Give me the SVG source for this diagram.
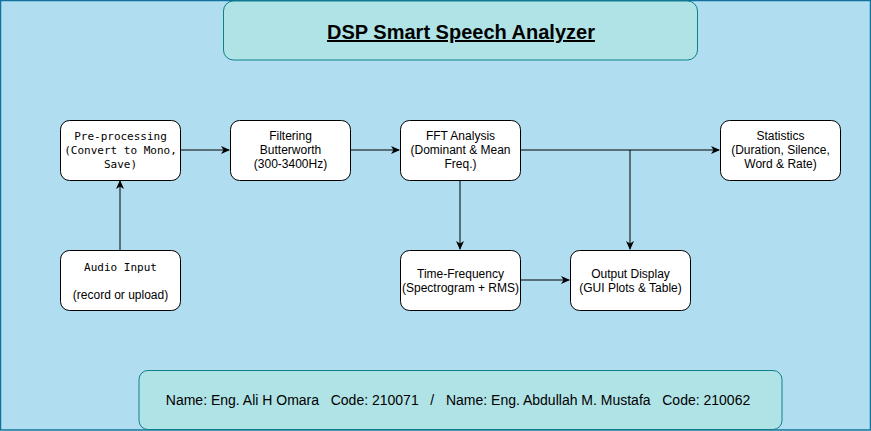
<svg xmlns="http://www.w3.org/2000/svg" width="871" height="431" viewBox="0 0 871 431">
<style>
.node{fill:#ffffff;stroke:#000000;stroke-width:1}
.t{font-family:"Liberation Sans",Arial,sans-serif;font-size:12px;fill:#000;text-anchor:middle}
.m{font-family:"DejaVu Sans Mono","Liberation Mono",monospace;font-size:11px;fill:#000;text-anchor:middle}
.c{fill:none;stroke:#000;stroke-width:1}
</style>
<defs>
<marker id="arr" markerWidth="10" markerHeight="10" refX="8" refY="4" orient="auto" markerUnits="userSpaceOnUse">
<path d="M0,0 L9,4 L0,8 L2.5,4 Z" fill="#000"/>
</marker>
</defs>
<rect x="0.5" y="0.5" width="870" height="429.5" fill="#b1ddf0" stroke="#10739e" stroke-width="1.5"/>
<g id="title">
<rect x="223.5" y="1" width="474" height="59" rx="10" fill="#b0e3e6" stroke="#0e8088"/>
<text x="461" y="39" font-family="Liberation Sans,Arial,sans-serif" font-size="20" font-weight="bold" text-anchor="middle" text-decoration="underline">DSP Smart Speech Analyzer</text>
</g>
<g id="connectors">
<path class="c" d="M180,150 L229,150" marker-end="url(#arr)"/>
<path class="c" d="M350,150 L399,150" marker-end="url(#arr)"/>
<path class="c" d="M520,150 L719,150" marker-end="url(#arr)"/>
<path class="c" d="M630,150 L630,249" marker-end="url(#arr)"/>
<path class="c" d="M460,180 L460,249" marker-end="url(#arr)"/>
<path class="c" d="M120,250 L120,181" marker-end="url(#arr)"/>
<path class="c" d="M520,280 L569,280" marker-end="url(#arr)"/>
</g>
<g id="preprocessing">
<rect class="node" x="60.5" y="120.5" width="120" height="60" rx="9"/>
<text class="m" x="120.5" y="140">Pre-processing</text>
<text class="m" x="120.5" y="154">(Convert to Mono,</text>
<text class="m" x="120.5" y="168">Save)</text>
</g>
<g id="filtering">
<rect class="node" x="230.5" y="120.5" width="120" height="60" rx="9"/>
<text class="t" x="290.5" y="140">Filtering</text>
<text class="t" x="290.5" y="154">Butterworth</text>
<text class="t" x="290.5" y="168">(300-3400Hz)</text>
</g>
<g id="fft">
<rect class="node" x="400.5" y="120.5" width="120" height="60" rx="9"/>
<text class="t" x="460.5" y="140">FFT Analysis</text>
<text class="t" x="460.5" y="154">(Dominant &amp; Mean</text>
<text class="t" x="460.5" y="168">Freq.)</text>
</g>
<g id="statistics">
<rect class="node" x="720.5" y="120.5" width="120" height="60" rx="9"/>
<text class="t" x="780.5" y="140">Statistics</text>
<text class="t" x="780.5" y="154">(Duration, Silence,</text>
<text class="t" x="780.5" y="168">Word &amp; Rate)</text>
</g>
<g id="audio">
<rect class="node" x="60.5" y="250.5" width="120" height="60" rx="9"/>
<text class="m" x="120.5" y="271">Audio Input</text>
<text class="t" x="120.5" y="299">(record or upload)</text>
</g>
<g id="timefreq">
<rect class="node" x="400.5" y="250.5" width="120" height="60" rx="9"/>
<text class="t" x="460.5" y="278">Time-Frequency</text>
<text class="t" x="460.5" y="292">(Spectrogram + RMS)</text>
</g>
<g id="output">
<rect class="node" x="570.5" y="250.5" width="120" height="60" rx="9"/>
<text class="t" x="630.5" y="278">Output Display</text>
<text class="t" x="630.5" y="292">(GUI Plots &amp; Table)</text>
</g>
<g id="footer">
<rect x="139" y="370.5" width="643" height="59" rx="9" fill="#b0e3e6" stroke="#0e8088"/>
<text x="458" y="405" font-family="Liberation Sans,Arial,sans-serif" font-size="14" text-anchor="middle" xml:space="preserve">Name: Eng. Ali H Omara   Code: 210071   /   Name: Eng. Abdullah M. Mustafa   Code: 210062</text>
</g>
</svg>
